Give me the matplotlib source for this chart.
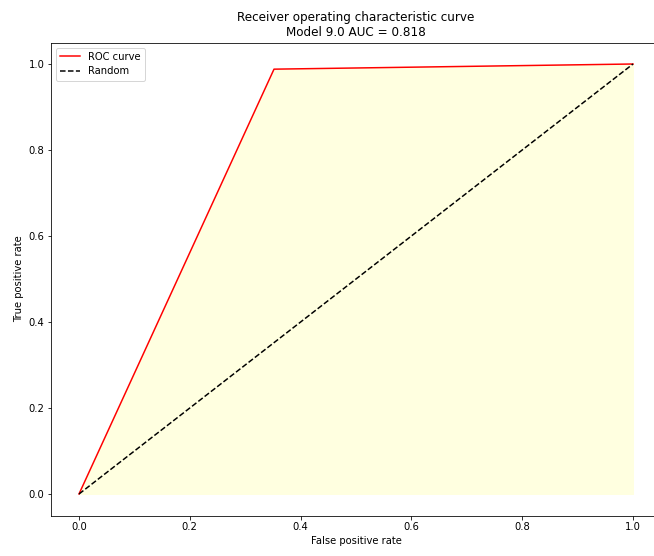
import matplotlib
matplotlib.use("Agg")
import matplotlib.pyplot as plt
import numpy as np

fpr = [0.0, 0.352, 1.0]
tpr = [0.0, 0.988, 1.0]
random_x = [0.0, 1.0]
random_y = [0.0, 1.0]
model_name = "9.0"

auc = np.trapezoid(tpr, fpr)

fig = plt.figure(figsize=(654 / 72, 556 / 72), dpi=72)
ax = fig.add_axes([51.3 / 654, 1 - 515.5 / 556, 609.4 / 654, 473 / 556])

ax.fill_between(fpr, tpr, color="lightyellow")
ax.plot(fpr, tpr, color="red", label="ROC curve")
ax.plot(random_x, random_y, "k--", label="Random")

ax.set_xlabel("False positive rate")
ax.set_ylabel("True positive rate")
ax.set_title("Receiver operating characteristic curve\nModel %s AUC = %.3f" % (model_name, auc))
ax.legend(loc="upper left")

fig.savefig("out.png", dpi=72)
